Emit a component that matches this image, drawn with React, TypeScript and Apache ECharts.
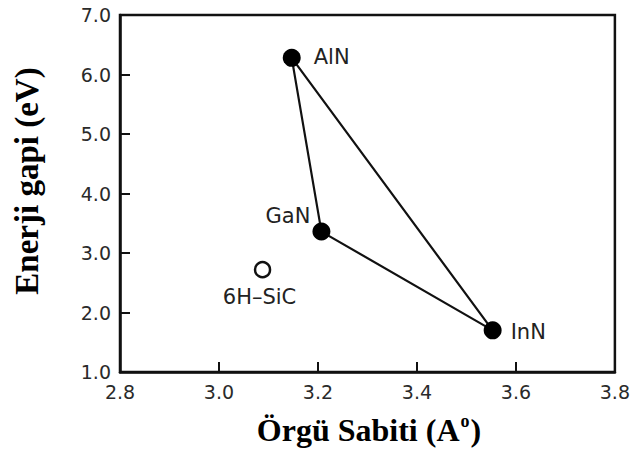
import React, { useEffect, useRef } from "react";
import * as echarts from "echarts";

const materials = ["AlN", "GaN", "InN"];
const latticeConst = [3.147, 3.207, 3.553];
const bandGap = [6.28, 3.36, 1.7];
const triangleOrder = ["AlN", "GaN", "InN", "AlN"];
const sicName = "6H\u2013SiC";
const sicPoint = [3.088, 2.72];
const xTicks = ["2.8", "3.0", "3.2", "3.4", "3.6", "3.8"];
const yTicks = ["1.0", "2.0", "3.0", "4.0", "5.0", "6.0", "7.0"];

export default function App() {
  const ref = useRef<HTMLDivElement>(null);
  useEffect(() => {
    document.body.style.margin = "0";
    if (!ref.current) return;
    const chart = echarts.init(ref.current, null, { renderer: "svg" });
    const pts = materials.map((m, i) => ({ name: m, value: [latticeConst[i], bandGap[i]] }));
    const labelPos: Record<string, any> = {
      AlN: { position: "right", distance: 13, offset: [0, -1] },
      GaN: { position: "left", distance: 2, offset: [0, -16] },
      InN: { position: "right", distance: 9, offset: [0, 2] },
    };
    const tri = triangleOrder.map((n) => {
      const i = materials.indexOf(n);
      return [latticeConst[i], bandGap[i]];
    });
    const axisFont = { fontFamily: "DejaVu Sans", fontSize: 19, color: "#2a2a2a" };
    chart.setOption({
      animation: false,
      grid: { left: 120, right: 12, top: 15, bottom: 82, show: true, borderColor: "#111", borderWidth: 2.5 },
      xAxis: {
        type: "value",
        min: 2.8,
        max: 3.8,
        interval: 0.2,
        axisLine: { show: true, lineStyle: { color: "#111", width: 2.5 } },
        axisTick: { show: true, inside: true, length: 10, lineStyle: { color: "#111", width: 2 } },
        splitLine: { show: false },
        axisLabel: { ...axisFont, margin: 10, formatter: (v: number) => xTicks[Math.round((v - 2.8) / 0.2)] ?? "" },
      },
      yAxis: {
        type: "value",
        min: 1,
        max: 7,
        interval: 1,
        axisLine: { show: true, lineStyle: { color: "#111", width: 2.5 } },
        axisTick: { show: true, inside: true, length: 10, lineStyle: { color: "#111", width: 2 } },
        splitLine: { show: false },
        axisLabel: { ...axisFont, margin: 9, formatter: (v: number) => yTicks[Math.round(v - 1)] ?? "" },
      },
      series: [
        {
          type: "line",
          data: tri,
          symbol: "none",
          lineStyle: { color: "#111", width: 2.2 },
          z: 2,
        },
        {
          type: "scatter",
          data: pts.map((p) => ({ ...p, label: labelPos[p.name] })),
          symbol: "circle",
          symbolSize: 18,
          itemStyle: { color: "#000", opacity: 1 },
          label: {
            show: true,
            formatter: "{b}",
            fontFamily: "DejaVu Sans",
            fontSize: 21,
            color: "#222",
          },
          z: 3,
        },
        {
          type: "scatter",
          data: [{ name: sicName, value: sicPoint }],
          symbol: "circle",
          symbolSize: 15,
          itemStyle: { color: "#fff", borderColor: "#111", borderWidth: 2.5, opacity: 1 },
          label: {
            show: true,
            position: "bottom",
            distance: 8,
            offset: [-3, 0],
            formatter: "{b}",
            fontFamily: "DejaVu Sans",
            fontSize: 21,
            color: "#222",
          },
          z: 3,
        },
      ],
      graphic: [
        {
          type: "text",
          x: 27,
          y: 181,
          rotation: Math.PI / 2,
          style: {
            text: "Enerji gapi (eV)",
            font: "bold 33px 'Liberation Serif'",
            fill: "#000",
            align: "center",
            verticalAlign: "middle",
          },
        },
        {
          type: "text",
          x: 369,
          y: 430,
          style: {
            text: "Örgü Sabiti (A{sup|o})",
            font: "bold 32px 'Liberation Serif'",
            fill: "#000",
            align: "center",
            verticalAlign: "middle",
            rich: {
              sup: { fontFamily: "Liberation Serif", fontWeight: "bold", fontSize: 18, verticalAlign: "top", lineHeight: 36, padding: [0, 1, 14, 1] },
            },
          },
        },
      ],
    });
    return () => chart.dispose();
  }, []);
  return <div ref={ref} style={{ width: 633, height: 454 }} />;
}
